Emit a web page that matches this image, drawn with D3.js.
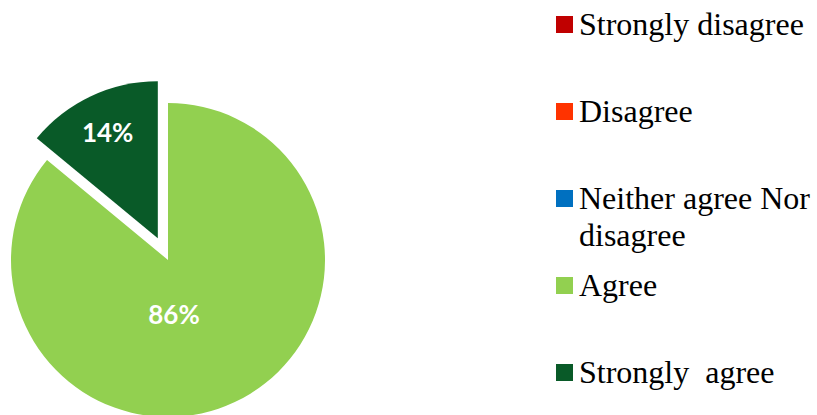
<!DOCTYPE html>
<html><head><meta charset="utf-8">
<script src="https://cdn.jsdelivr.net/npm/d3@7"></script>
<style>html,body{margin:0;padding:0;background:#fff;}svg{display:block;}</style>
</head><body>
<svg id="chart" width="817" height="415"></svg>
<script>
const categories = ["Strongly disagree", "Disagree", "Neither agree Nor disagree", "Agree", "Strongly  agree"];
const legendLines = [["Strongly disagree"], ["Disagree"], ["Neither agree Nor", "disagree"], ["Agree"], ["Strongly  agree"]];
const values = [0, 0, 0, 86, 14];
const colors = ["#C00000", "#FF3300", "#0070C0", "#92D050", "#095A28"];
const explode = [0, 0, 0, 0, 24];

const svg = d3.select("#chart");
const cx = 168, cy = 260, R = 157;

const pie = d3.pie().sort(null).value(d => d)(values);
const arc = d3.arc().innerRadius(0).outerRadius(R);
const labelArc = d3.arc().innerRadius(R * 0.75).outerRadius(R * 0.75);

const g = svg.append("g").attr("transform", `translate(${cx},${cy})`);
const slices = g.selectAll("g.slice").data(pie.filter(d => d.value > 0)).join("g")
  .attr("class", "slice")
  .attr("transform", d => {
    const a = (d.startAngle + d.endAngle) / 2;
    const off = explode[d.index];
    return `translate(${Math.sin(a) * off},${-Math.cos(a) * off})`;
  });
slices.append("path").attr("d", arc).attr("fill", d => colors[d.index]);

slices.append("text")
  .attr("fill", "#fff")
  .attr("font-family", "Lato, 'Open Sans', sans-serif")
  .attr("font-weight", "bold")
  .attr("font-size", 26)
  .attr("text-anchor", "middle")
  .attr("dominant-baseline", "central")
  .attr("transform", d => {
    if (d.value > 50) return `translate(6,54)`;
    const [x, y] = labelArc.centroid(d);
    return `translate(${x},${y})`;
  })
  .text(d => d.value + "%");

// legend
const legStep = 87, legY0 = 35, legX = 556;
const leg = svg.append("g");
categories.forEach((c, i) => {
  const by = legY0 + i * legStep;
  leg.append("rect").attr("x", legX).attr("y", by - 19).attr("width", 17).attr("height", 17).attr("fill", colors[i]);
  const t = leg.append("text").attr("x", legX + 23).attr("y", by)
    .attr("font-family", "'Liberation Serif', 'Times New Roman', serif")
    .attr("font-size", 32).attr("fill", "#000")
    .style("white-space", "pre");
  legendLines[i].forEach((ln, j) => {
    t.append("tspan").attr("x", legX + 23).attr("y", by + j * 37).text(ln);
  });
});
</script>
</body></html>
